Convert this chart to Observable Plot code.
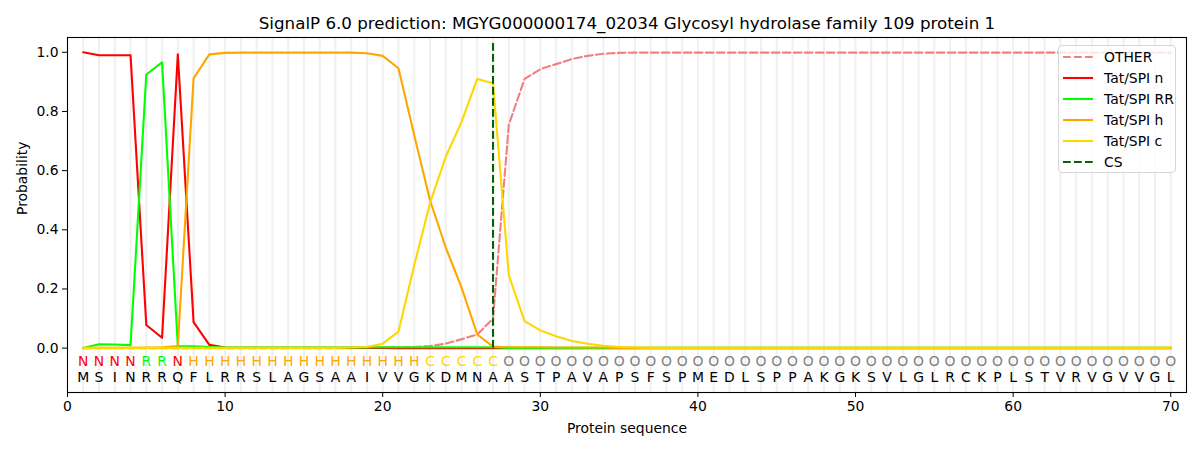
<!DOCTYPE html>
<html>
<head>
<meta charset="utf-8">
<script src="https://cdn.jsdelivr.net/npm/d3@7"></script>
<script src="https://cdn.jsdelivr.net/npm/@observablehq/plot@0.6"></script>
<style>
  html, body { margin: 0; padding: 0; background: white; }
  #wrap { position: relative; width: 1200px; height: 450px; font-family: "DejaVu Sans", sans-serif; }
  #legend { position: absolute; left: 1058px; top: 45px; width: 118px; height: 128px;
    border: 1px solid #d6d6d6; border-radius: 4px; background: rgba(255,255,255,0.8); box-sizing: border-box; }
  .row { position: absolute; left: 0; height: 20px; display: flex; align-items: center; font-size: 13.9px; color: #000; }
  .row svg { margin-left: 4px; margin-right: 11px; }
</style>
</head>
<body>
<div id="wrap"><div id="chart"></div><div id="legend"></div></div>
<script>
const title = "SignalP 6.0 prediction: MGYG000000174_02034 Glycosyl hydrolase family 109 protein 1";
const sequence = "MSINRRQFLRRSLAGSAAIVVGKDMNAASTPAVAPSFSPMEDLSPPAKGKSVLGLRCKPLSTVRVGVVGL";
const regionLabels = "NNNNRRNHHHHHHHHHHHHHHHCCCCCOOOOOOOOOOOOOOOOOOOOOOOOOOOOOOOOOOOOOOOOOOO";
const csPosition = 27;
const xTicks = [0, 10, 20, 30, 40, 50, 60, 70];
const yTicks = [0, 0.2, 0.4, 0.6, 0.8, 1.0];

const seriesNames = ["OTHER", "Tat/SPI n", "Tat/SPI RR", "Tat/SPI h", "Tat/SPI c"];
const seriesColors = ["#f08080", "#ff0000", "#00ff00", "#ffa500", "#ffd700"];

const other = [0,0,0,0,0,0,0,0,0,0, 0,0,0,0,0,0,0,0,0.001,0.001,
  0.002,0.004,0.007,0.015,0.03,0.046,0.10,0.755,0.91,0.943,
  0.96,0.977,0.988,0.995,0.998,0.999,0.999,0.999,0.999,0.999,
  0.999,0.999,0.999,0.999,0.999,0.999,0.999,0.999,0.999,0.999,
  0.999,0.999,0.999,0.999,0.999,0.999,0.999,0.999,0.999,0.999,
  0.999,0.999,0.999,0.999,0.999,0.999,0.999,0.999,0.999,0.999];
const tatN = [1.0,0.99,0.99,0.99,0.078,0.035,0.993,0.088,0.011,0.002,
  0.001,0.001,0.001,0.001,0.001,0.001,0.001,0.001,0.001,0.001,
  0,0,0,0,0,0,0,0,0,0, 0,0,0,0,0,0,0,0,0,0,
  0,0,0,0,0,0,0,0,0,0, 0,0,0,0,0,0,0,0,0,0, 0,0,0,0,0,0,0,0,0,0];
const tatRR = [0.0,0.013,0.012,0.01,0.925,0.966,0.007,0.006,0.004,0.002,
  0.002,0.002,0.002,0.002,0.002,0.002,0.002,0.002,0.002,0.003,
  0.003,0.003,0.003,0.003,0.003,0.003,0.003,0.001,0.001,0.001,
  0.001,0.001,0.001,0.001,0.001,0.001,0.001,0.001,0.001,0.001,
  0.001,0.001,0.001,0.001,0.001,0.001,0.001,0.001,0.001,0.001,
  0.001,0.001,0.001,0.001,0.001,0.001,0.001,0.001,0.001,0.001,
  0.001,0.001,0.001,0.001,0.001,0.001,0.001,0.001,0.001,0.001];
const tatH = [0.001,0.001,0.001,0.001,0.002,0.003,0.007,0.912,0.993,0.998,
  0.999,0.999,0.999,0.999,0.999,0.999,0.999,0.999,0.997,0.988,
  0.946,0.72,0.5,0.34,0.205,0.046,0.005,0.003,0.003,0.003,
  0.002,0.002,0.002,0.002,0.001,0.001,0.001,0.001,0.001,0.001,
  0.001,0.001,0.001,0.001,0.001,0.001,0.001,0.001,0.001,0.001,
  0.001,0.001,0.001,0.001,0.001,0.001,0.001,0.001,0.001,0.001,
  0.001,0.001,0.001,0.001,0.001,0.001,0.001,0.001,0.001,0.001];
const tatC = [0.001,0.001,0.001,0.001,0.001,0.001,0.001,0.001,0.001,0.001,
  0.001,0.001,0.001,0.001,0.001,0.001,0.001,0.002,0.004,0.015,
  0.056,0.28,0.49,0.647,0.765,0.91,0.895,0.246,0.091,0.06,
  0.04,0.024,0.015,0.008,0.004,0.002,0.001,0.001,0.001,0.001,
  0.001,0.001,0.001,0.001,0.001,0.001,0.001,0.001,0.001,0.001,
  0.001,0.001,0.001,0.001,0.001,0.001,0.001,0.001,0.001,0.001,
  0.001,0.001,0.001,0.001,0.001,0.001,0.001,0.001,0.001,0.001];

const labelColors = {N: "#ff0000", R: "#00ff00", H: "#ffa500", C: "#ffd700", O: "#808080"};

const seriesValues = [other, tatN, tatRR, tatH, tatC];
const positions = Array.from(sequence, (_, i) => i + 1);
const residues = positions.map(p => ({pos: p, aa: sequence[p - 1], lab: regionLabels[p - 1]}));

const lineMarks = seriesNames.map((name, k) =>
  Plot.line(positions.map(p => ({pos: p, v: seriesValues[k][p - 1]})), {
    x: "pos", y: "v", stroke: seriesColors[k], strokeWidth: 2.1,
    strokeDasharray: name === "OTHER" ? "7.7,3.3" : null
  })
);

const chart = Plot.plot({
  width: 1200, height: 450,
  marginLeft: 67, marginRight: 14, marginTop: 37, marginBottom: 58,
  style: {fontFamily: "DejaVu Sans, sans-serif", fontSize: "13.9px", background: "white", color: "black", overflow: "visible"},
  x: {domain: [0, 71]},
  y: {domain: [-0.15, 1.05]},
  color: {type: "identity"},
  marks: [
    Plot.ruleX(positions, {x: d => d, stroke: "#f0f0f0", strokeWidth: 2}),
    ...lineMarks,
    Plot.ruleX([csPosition], {x: d => d, y1: 0, y2: 1.035, stroke: "#006400", strokeWidth: 2.1, strokeDasharray: "7.7,3.3"}),
    Plot.text(residues, {x: "pos", y: () => -0.045, text: "lab", fill: d => labelColors[d.lab], fontSize: 13.9}),
    Plot.text(residues, {x: "pos", y: () => -0.098, text: "aa", fill: "#000", fontSize: 13.9}),
    Plot.frame({stroke: "black", strokeWidth: 1.1}),
    Plot.axisX({ticks: xTicks, tickFormat: d3.format("d"), tickSize: 5, tickPadding: 4, label: null, fontSize: 13.9}),
    Plot.axisY({ticks: yTicks, tickFormat: d3.format(".1f"), tickSize: 5, tickPadding: 4, label: null, fontSize: 13.9}),
    Plot.text([title], {frameAnchor: "top", lineAnchor: "middle", dy: -14, fontSize: 16.7, fill: "black"}),
    Plot.text(["Protein sequence"], {frameAnchor: "bottom", lineAnchor: "middle", dy: 36, fontSize: 13.9, fill: "black"}),
    Plot.text(["Probability"], {frameAnchor: "left", dx: -45, rotate: -90, fontSize: 13.9, fill: "black"})
  ]
});
document.getElementById("chart").appendChild(chart);

// legend
const legend = document.getElementById("legend");
const legendItems = seriesNames.map((n, k) => ({name: n, color: seriesColors[k], dash: n === "OTHER"}))
  .concat([{name: "CS", color: "#006400", dash: true}]);
legendItems.forEach((item, i) => {
  const row = document.createElement("div");
  row.className = "row";
  row.style.top = (1 + i * 21) + "px";
  row.innerHTML = `<svg width="30" height="6"><line x1="0" y1="3" x2="30" y2="3" stroke="${item.color}" stroke-width="2.1" ${item.dash ? 'stroke-dasharray="7.7,3.3"' : ''}/></svg><span>${item.name}</span>`;
  legend.appendChild(row);
});
</script>
</body>
</html>
